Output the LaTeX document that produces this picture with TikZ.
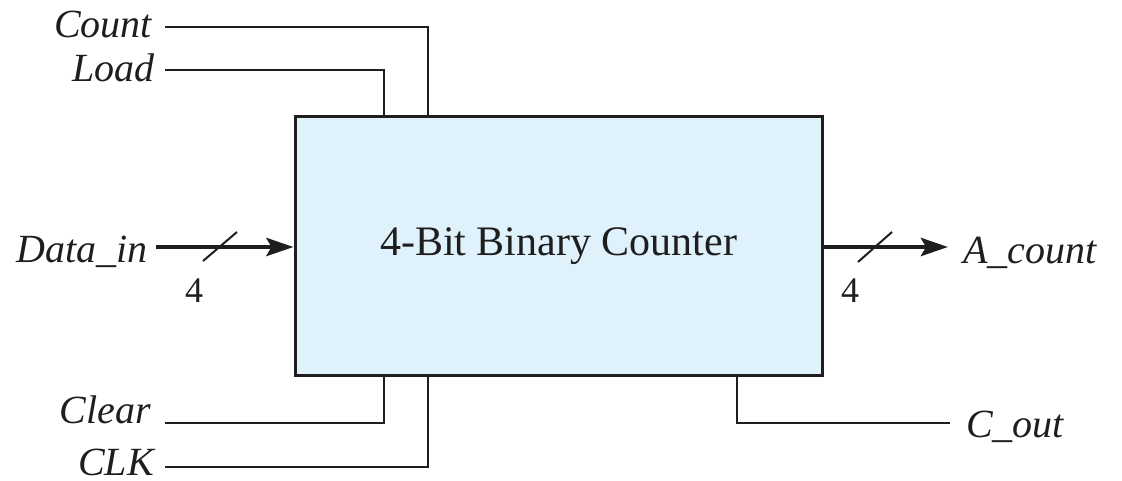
\documentclass[tikz,border=0pt]{standalone}
\usepackage{fontspec}
\setmainfont{Liberation Serif}
\usetikzlibrary{arrows.meta}
\definecolor{boxfill}{RGB}{223,241,251}
\definecolor{ink}{RGB}{30,30,30}
\tikzset{
  sig/.style={font=\fontsize{40}{48}\selectfont\itshape, text=ink, inner sep=0pt},
  width4/.style={font=\fontsize{36}{43}\selectfont, text=ink, inner sep=0pt},
  wire/.style={draw=ink, line width=2pt},
  bus/.style={draw=ink, line width=4.5pt, -{Stealth[length=27pt,width=18pt,inset=5pt]}},
  slash/.style={draw=ink, line width=2pt},
  block/.style={draw=ink, line width=3pt, fill=boxfill, minimum width=527pt,
    minimum height=258pt, inner sep=0pt, font=\fontsize{42}{50}\selectfont, text=ink}
}
\begin{document}
\begin{tikzpicture}[x=1pt,y=-1pt]
\useasboundingbox (0,0) rectangle (1122,481);

% the counter block
\node[block] (box) at (558.5,246) {4-Bit Binary Counter};

% signal names
\node[sig, anchor=base east] (cnt)  at (152,38)  {Count};
\node[sig, anchor=base east] (ld)   at (155,82)  {Load};
\node[sig, anchor=base east] (din)  at (148,262) {Data\_in};
\node[sig, anchor=base east] (clr)  at (151,423) {Clear};
\node[sig, anchor=base east] (clk)  at (154,475) {CLK};
\node[sig, anchor=base west] (acnt) at (963,263) {A\_count};
\node[sig, anchor=base west] (cout) at (966,437) {C\_out};

% wire end points
\coordinate (cntL) at (165,27);
\coordinate (ldL)  at (165,70);
\coordinate (dinL) at (156,247);
\coordinate (clrL) at (165,423);
\coordinate (clkL) at (165,467);
\coordinate (acntR) at (948,247);
\coordinate (coutR) at (950,423);
\coordinate (ldTap)  at (384,117);
\coordinate (cntTap) at (428,117);
\coordinate (clrTap) at (384,375);
\coordinate (clkTap) at (428,375);
\coordinate (coutTap) at (737,375);

% control inputs and carry output
\draw[wire] (cntL) -| (cntTap);
\draw[wire] (ldL) -| (ldTap);
\draw[wire] (clrL) -| (clrTap);
\draw[wire] (clkL) -| (clkTap);
\draw[wire] (coutTap) |- (coutR);

% 4-bit data buses
\draw[bus] (dinL) -- (dinL -| box.west);
\draw[bus] (box.east |- acntR) -- (acntR);
\draw[slash] (203,261) -- (237,232);
\draw[slash] (858,262) -- (892,232);
\node[width4, anchor=base] (w1) at (194,302) {4};
\node[width4, anchor=base] (w2) at (850,302) {4};
\end{tikzpicture}
\end{document}
